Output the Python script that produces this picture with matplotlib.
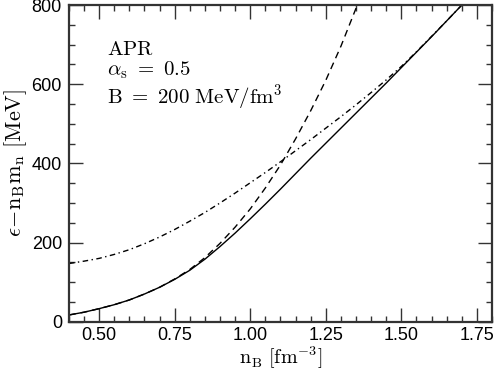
import numpy as np
import matplotlib
matplotlib.use('Agg')
import matplotlib.pyplot as plt

plt.rcParams['mathtext.fontset'] = 'cm'
plt.rcParams['font.family'] = ['Liberation Sans', 'DejaVu Sans']

# baryon density [fm^-3]
nb = [0.40, 0.45, 0.50, 0.55, 0.60, 0.65, 0.70, 0.75, 0.80, 0.85, 0.90, 0.95, 1.00, 1.05,
      1.10, 1.15, 1.20, 1.25, 1.30, 1.35, 1.40, 1.45, 1.50, 1.55, 1.60, 1.65, 1.70]
# energy per volume minus rest mass [MeV]
e_solid = [17, 24, 33, 43, 55, 70, 87, 107, 130, 158, 190, 224, 260, 297,
           335, 374, 413, 451, 489, 527, 565, 603, 642, 681, 720, 760, 800]
e_dashdot = [147, 153, 160, 170, 182, 197, 214, 233, 254, 276, 300, 325, 351, 377,
             404, 432, 460, 489, 518, 548, 579, 611, 645, 682, 721, 760, 800]

nb_dash = [0.40, 0.45, 0.50, 0.55, 0.60, 0.65, 0.70, 0.75, 0.80, 0.85, 0.90, 0.95, 1.00,
           1.05, 1.10, 1.15, 1.20, 1.25, 1.30, 1.35, 1.40]
e_dash = [17, 24, 33, 43, 55, 70, 87, 108, 132, 162, 198, 239, 285,
          338, 396, 462, 533, 610, 696, 792, 900]

fig = plt.figure(figsize=(4.96, 3.73), dpi=100)
ax = fig.add_axes([0.139, 0.1375, 0.853, 0.849])

ax.plot(nb, e_solid, 'k-', lw=1.0)
ax.plot(nb_dash, e_dash, color='k', lw=1.0, dashes=(5, 3.5))
ax.plot(nb, e_dashdot, color='k', lw=1.0, dashes=(4, 2.5, 1, 2.5))

ax.set_xlim(0.4, 1.8)
ax.set_ylim(0, 800)
ax.set_xticks([0.50, 0.75, 1.00, 1.25, 1.50, 1.75])
ax.set_xticklabels(['0.50', '0.75', '1.00', '1.25', '1.50', '1.75'])
ax.set_xticks(np.arange(0.40, 1.801, 0.05), minor=True)
ax.set_yticks([0, 200, 400, 600, 800])
ax.set_yticks(np.arange(0, 801, 50), minor=True)

ax.tick_params(which='both', direction='in', top=True, right=True, labelsize=13, width=1.0, color='#333333')
ax.tick_params(which='major', length=10)
ax.tick_params(which='minor', length=4.5)
ax.tick_params(axis='x', pad=4)
ax.tick_params(axis='y', pad=5)
for s in ax.spines.values():
    s.set_linewidth(1.6)
    s.set_color('#333333')

ax.set_xlabel(r'$\mathrm{n_B\ [fm^{-3}]}$', fontsize=14.5, labelpad=0)
ax.set_ylabel(r'$\epsilon\!-\!\mathrm{n_B m_n\ [MeV]}$', fontsize=16, labelpad=2)

info = '\n'.join([r'$\mathrm{APR}$',
                  r'$\alpha_\mathrm{s}\ =\ 0.5$',
                  r'$\mathrm{B\ =\ 200\ MeV/fm^3}$'])
ax.text(0.09, 0.89, info, transform=ax.transAxes, fontsize=15, va='top', ha='left',
        linespacing=1.05)

fig.savefig('out.png', dpi=100)
